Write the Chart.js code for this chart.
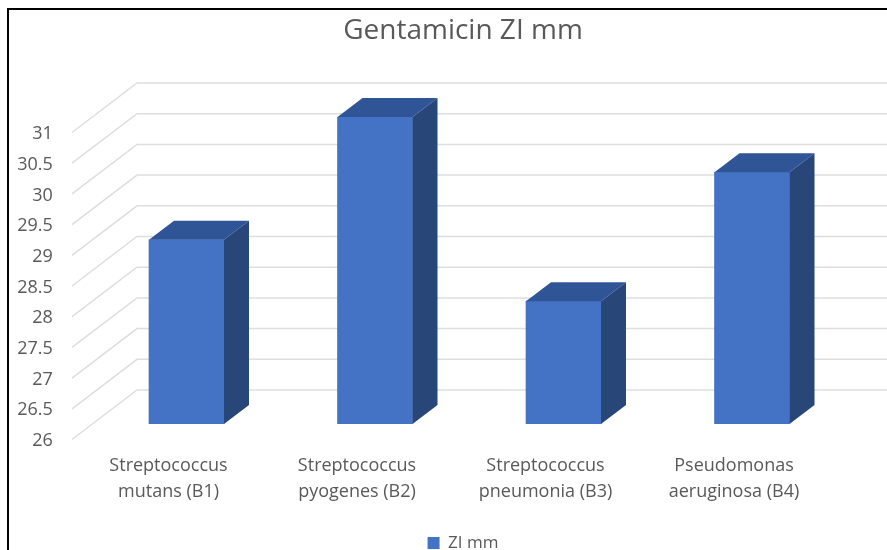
<!DOCTYPE html>
<html>
<head>
<meta charset="utf-8">
<style>
html,body{margin:0;padding:0;background:#fff;overflow:hidden}
#wrap{position:relative;width:887px;height:550px}
#frame{position:absolute;left:7px;top:8px;width:880px;height:542px;border-left:2px solid #000;border-top:2px solid #000;box-sizing:border-box;pointer-events:none}
canvas{position:absolute;left:0;top:0}
</style>
<script src="https://cdn.jsdelivr.net/npm/chart.js@4"></script>
</head>
<body>
<div id="wrap"><canvas id="c" width="887" height="550"></canvas><div id="frame"></div></div>
<script>
const titleText = "Gentamicin ZI mm";
const seriesName = "ZI mm";
const categories = [
  ["Streptococcus","mutans (B1)"],
  ["Streptococcus","pyogenes (B2)"],
  ["Streptococcus","pneumonia (B3)"],
  ["Pseudomonas","aeruginosa (B4)"]
];
const ziValues = [29, 31, 28, 30.1];
const axisMin = 26, axisMax = 31, axisStep = 0.5;

const FRONT_COLOR = "#4472C4", TOP_COLOR = "#2F5597", SIDE_COLOR = "#294679", GRID = "#DEDEDE", TEXT = "#595959";
const FONT = "'Open Sans', sans-serif";

const depth3d = {
  id: "depth3d",
  beforeDatasetsDraw(chart) {
    const ctx = chart.ctx, y = chart.scales.y;
    ctx.save();
    ctx.strokeStyle = GRID; ctx.lineWidth = 1.5;
    y.ticks.forEach(t => {
      const p = y.getPixelForValue(t.value);
      ctx.beginPath();
      ctx.moveTo(72, p + 15.5);
      ctx.lineTo(137, p - 34);
      ctx.lineTo(chart.width, p - 34);
      ctx.stroke();
    });
    ctx.restore();
  },
  afterDatasetsDraw(chart) {
    const ctx = chart.ctx, dx = 25, dy = 19;
    const floor = chart.scales.y.getPixelForValue(axisMin);
    ctx.save();
    chart.getDatasetMeta(0).data.forEach(b => {
      const l = b.x - b.width / 2, r = b.x + b.width / 2, t = b.y;
      ctx.fillStyle = TOP_COLOR;
      ctx.beginPath();
      ctx.moveTo(l, t); ctx.lineTo(l + dx, t - dy); ctx.lineTo(r + dx, t - dy); ctx.lineTo(r, t);
      ctx.closePath(); ctx.fill();
      ctx.fillStyle = SIDE_COLOR;
      ctx.beginPath();
      ctx.moveTo(r, t); ctx.lineTo(r + dx, t - dy); ctx.lineTo(r + dx, floor - dy); ctx.lineTo(r, floor);
      ctx.closePath(); ctx.fill();
    });
    ctx.restore();
  }
};

new Chart(document.getElementById("c"), {
  type: "bar",
  data: {
    labels: categories,
    datasets: [{
      label: seriesName,
      data: ziValues,
      backgroundColor: FRONT_COLOR,
      barThickness: 75
    }]
  },
  plugins: [depth3d],
  options: {
    responsive: false,
    animation: false,
    layout: { padding: { left: 79.75, right: 40.75, top: 0, bottom: -11.5 } },
    plugins: {
      tooltip: { enabled: false },
      title: {
        display: true,
        text: titleText,
        color: TEXT,
        font: { family: FONT, size: 28, weight: "normal", lineHeight: 1.2 },
        padding: { top: 14.5, bottom: 68.9 }
      },
      legend: {
        position: "bottom",
        onClick: null,
        labels: {
          color: TEXT,
          font: { family: FONT, size: 17 },
          boxWidth: 12, boxHeight: 12,
          padding: 1
        }
      }
    },
    scales: {
      x: {
        grid: { display: false, drawTicks: false },
        border: { display: false },
        afterFit: s => { s.height = 109.5; },
        ticks: {
          color: TEXT,
          font: { family: FONT, size: 18, lineHeight: 1.45 },
          maxRotation: 0, minRotation: 0,
          labelOffset: -18,
          padding: 29
        }
      },
      y: {
        min: axisMin, max: axisMax,
        grid: { display: false, drawTicks: false },
        border: { display: false },
        afterFit: s => { s.width = 12.5; },
        ticks: {
          stepSize: axisStep,
          autoSkip: false,
          color: TEXT,
          font: { family: FONT, size: 18 },
          labelOffset: 17,
          mirror: true,
          crossAlign: "far",
          padding: -75,
          callback: v => String(v)
        }
      }
    }
  }
});
</script>
</body>
</html>
